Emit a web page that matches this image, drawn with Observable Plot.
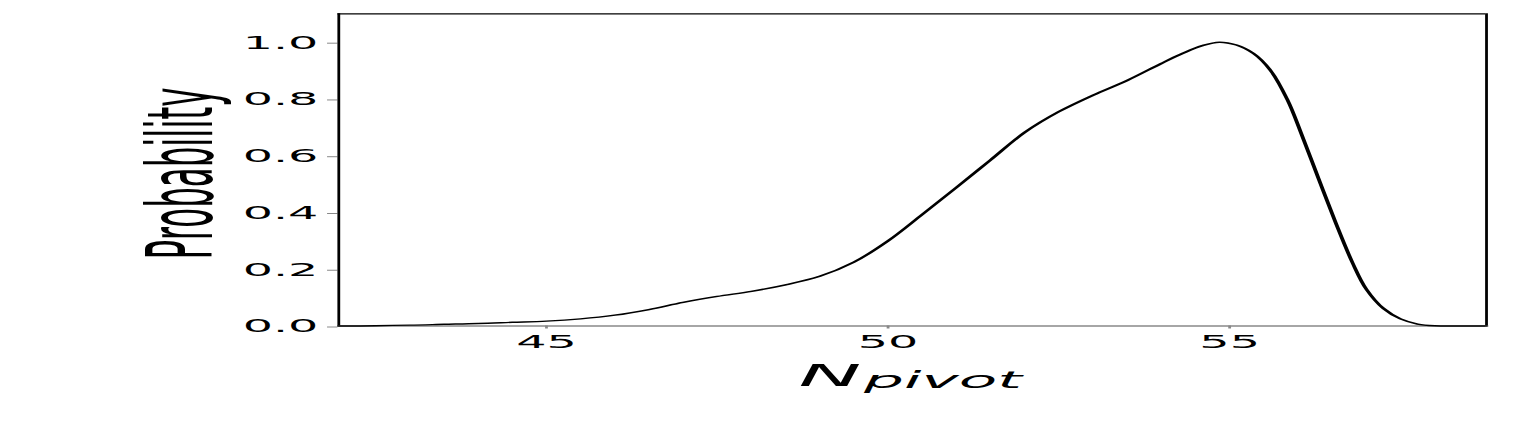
<!DOCTYPE html>
<html><head><meta charset="utf-8">
<script src="https://cdn.jsdelivr.net/npm/d3@7"></script>
<script src="https://cdn.jsdelivr.net/npm/@observablehq/plot@0.6"></script>
<style>body{margin:0;background:#fff;overflow:hidden;}</style>
</head><body><div id="chart"></div>
<script>
// Data
const nPivot = [41.96, 42.5, 43.0, 43.5, 44.0, 44.5, 45.0, 45.5, 46.0, 46.5, 47.0, 47.5, 48.0, 48.5, 49.0, 49.5, 50.0, 50.5, 51.0, 51.5, 52.0, 52.5, 53.0, 53.5, 54.0, 54.3, 54.6, 54.85, 55.1, 55.35, 55.6, 55.85, 56.05, 56.3, 56.55, 56.8, 57.0, 57.25, 57.5, 57.75, 58.0, 58.3, 58.76];
const probability = [0.000, 0.001, 0.003, 0.006, 0.009, 0.013, 0.017, 0.025, 0.038, 0.058, 0.083, 0.104, 0.122, 0.145, 0.175, 0.225, 0.300, 0.393, 0.488, 0.585, 0.682, 0.755, 0.813, 0.865, 0.925, 0.959, 0.988, 1.000, 0.990, 0.960, 0.900, 0.795, 0.677, 0.52, 0.365, 0.222, 0.13, 0.062, 0.025, 0.007, 0.001, 0.000, 0.000];
const xTicks = [45, 50, 55];
const yTicks = [0.0, 0.2, 0.4, 0.6, 0.8, 1.0];
const xDomain = [41.96, 58.76];
const yDomain = [0, 1.1];
const yLabel = "Probability";
const xLabelMain = "N";
const xLabelSub = "pivot";

const W = 1527, H = 436, S = 2.8;
const W0 = W / S;
const data = nPivot.map((x, i) => ({x, y: probability[i]}));

const svg = Plot.plot({
  width: W0,
  height: H,
  marginLeft: 120.5,
  marginRight: W0 - 530.4,
  marginTop: 13.3,
  marginBottom: H - 325.5,
  style: {fontFamily: "DejaVu Sans", fontSize: "17px", color: "#000", background: "#fff"},
  x: {domain: xDomain, label: null},
  y: {domain: yDomain, label: null},
  marks: [
    Plot.axisX({ticks: xTicks, tickSize: 3, tickPadding: 6.6, stroke: "#888", fill: "#000", label: null, tickFormat: d3.format("d")}),
    Plot.axisY({ticks: yTicks, tickSize: 3.7, tickPadding: 3.6, stroke: "#888", fill: "#000", label: null, tickFormat: d3.format(".1f"), dy: 1}),
    Plot.ruleY([yDomain[0]], {stroke: "#888", strokeWidth: 1.3}),
    Plot.ruleY([yDomain[1]], {stroke: "#000", strokeWidth: 1.3}),
    Plot.ruleX([xDomain[0]], {stroke: "#000", strokeWidth: 1}),
    Plot.ruleX([xDomain[1]], {stroke: "#000", strokeWidth: 1}),
    Plot.line(data, {x: "x", y: "y", stroke: "#000", strokeWidth: 1.4, curve: "catmull-rom"}),
    Plot.text([yLabel], {frameAnchor: "left", textAnchor: "middle", lineAnchor: "middle", rotate: -90, dx: -55.6, dy: 3.6, fontSize: 32.5, fill: "#000"}),
    Plot.text([xLabelMain], {frameAnchor: "bottom", textAnchor: "end", lineAnchor: "bottom", dx: -18.3, dy: 60, fontSize: 30, fontStyle: "italic", fill: "#000"}),
    Plot.text([xLabelSub], {frameAnchor: "bottom", textAnchor: "start", lineAnchor: "bottom", dx: -17.4, dy: 62, fontSize: 22.5, fontStyle: "italic", fill: "#000"})
  ]
});
svg.setAttribute("width", W);
svg.setAttribute("height", H);
svg.setAttribute("viewBox", `0 0 ${W0} ${H}`);
svg.setAttribute("preserveAspectRatio", "none");
svg.style.width = W + "px";
svg.style.height = H + "px";
svg.style.maxWidth = "none";
document.getElementById("chart").appendChild(svg);
</script>
</body></html>
